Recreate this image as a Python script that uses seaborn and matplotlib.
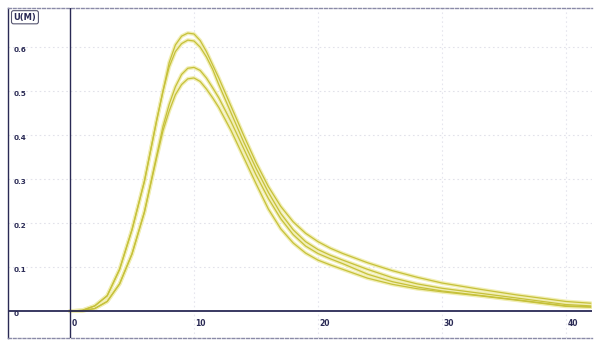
import numpy as np
import pandas as pd
import matplotlib
matplotlib.use("Agg")
import matplotlib.pyplot as plt
import seaborn as sns

# time axis (shared)
t = [0, 1, 2, 3, 4, 5, 6, 7, 7.5, 8, 8.5, 9, 9.5, 10, 10.5, 11, 11.5, 12,
     13, 14, 15, 16, 17, 18, 19, 20, 21, 22, 24, 26, 28, 30, 33, 36, 40, 42]

curve_a = [0, 0.002, 0.012, 0.035, 0.095, 0.185, 0.295, 0.435, 0.50, 0.565, 0.605, 0.625,
           0.632, 0.63, 0.615, 0.59, 0.56, 0.53, 0.465, 0.40, 0.338, 0.283, 0.238,
           0.203, 0.177, 0.158, 0.143, 0.131, 0.11, 0.092, 0.077, 0.064, 0.05,
           0.037, 0.022, 0.018]
curve_b = [0, 0.002, 0.012, 0.035, 0.095, 0.185, 0.295, 0.435, 0.50, 0.555, 0.59, 0.608,
           0.616, 0.614, 0.60, 0.578, 0.55, 0.515, 0.45, 0.385, 0.325, 0.27, 0.222,
           0.185, 0.158, 0.14, 0.127, 0.116, 0.095, 0.076, 0.062, 0.052, 0.041,
           0.03, 0.015, 0.012]
curve_c = [0, 0.001, 0.006, 0.022, 0.062, 0.13, 0.225, 0.355, 0.42, 0.47, 0.51, 0.538,
           0.552, 0.554, 0.547, 0.53, 0.508, 0.485, 0.43, 0.37, 0.31, 0.256, 0.21,
           0.174, 0.148, 0.131, 0.119, 0.108, 0.084, 0.067, 0.055, 0.046, 0.036,
           0.026, 0.012, 0.01]
curve_d = [0, 0.001, 0.006, 0.022, 0.062, 0.13, 0.225, 0.35, 0.41, 0.455, 0.492, 0.515,
           0.528, 0.53, 0.522, 0.505, 0.485, 0.463, 0.41, 0.35, 0.29, 0.232, 0.187,
           0.155, 0.132, 0.116, 0.105, 0.095, 0.075, 0.061, 0.051, 0.044, 0.035,
           0.025, 0.011, 0.009]

series_names = ["A", "B", "C", "D"]
x_ticks = [0, 10, 20, 30, 40]
x_tick_labels = ["0", "10", "20", "30", "40"]
y_ticks = [0, 0.1, 0.2, 0.3, 0.4, 0.5, 0.6]
y_tick_labels = ["0", "0.1", "0.2", "0.3", "0.4", "0.5", "0.6"]
unit_label = "U(M)"

frames = []
for name, vals in zip(series_names, [curve_a, curve_b, curve_c, curve_d]):
    frames.append(pd.DataFrame({"t": t, "v": vals, "curve": name}))
df = pd.concat(frames, ignore_index=True)

sns.set_style("white")
fig = plt.figure(figsize=(6.02, 3.48), dpi=100)
ax = fig.add_axes([8 / 602, 10 / 348, 584 / 602, 330 / 348])

XMIN, XMAX = -5.0, 42.1
YMIN, YMAX = -0.061, 0.689
ax.set_xlim(XMIN, XMAX)
ax.set_ylim(YMIN, YMAX)

# faint dotted grid
for yv in y_ticks[1:]:
    ax.axhline(yv, color="#e2e2ea", lw=0.8, ls=(0, (1.5, 2.5)), zorder=0)
for xv in x_ticks[1:]:
    ax.axvline(xv, color="#e6e6ee", lw=0.8, ls=(0, (1.5, 2.5)), zorder=0)

# curves: pale halo + olive core
pal = {n: "#f1eeb4" for n in series_names}
sns.lineplot(data=df, x="t", y="v", hue="curve", palette=pal, lw=2.8,
             legend=False, ax=ax, zorder=2, sort=True, estimator=None)
pal2 = {n: "#c6c13a" for n in series_names}
sns.lineplot(data=df, x="t", y="v", hue="curve", palette=pal2, lw=0.9,
             legend=False, ax=ax, zorder=3, sort=True, estimator=None)

# axes lines at zero
navy = "#2a2a55"
ax.axhline(0, color=navy, lw=1.3, zorder=4)
ax.axvline(0, color=navy, lw=1.0, zorder=4)

# frame
ax.spines["right"].set_visible(False)
ax.spines["left"].set_color(navy)
ax.spines["left"].set_linewidth(1.0)
for s in ["top", "bottom"]:
    ax.spines[s].set_color("#8a8aa8")
    ax.spines[s].set_linewidth(1.0)
    ax.spines[s].set_linestyle((0, (2, 1.5)))

ax.set_xticks([])
ax.set_yticks([])
ax.set_xlabel("")
ax.set_ylabel("")

# tick labels as text in data coords
for yv, lab in zip(y_ticks, y_tick_labels):
    ax.text(-4.55, yv - 0.007, lab, fontsize=5.2, fontweight="bold", color=navy,
            ha="left", va="center", family="DejaVu Sans")
for xv, lab in zip(x_ticks, x_tick_labels):
    ax.text(xv + 0.1, -0.028, lab, fontsize=5.5, fontweight="bold", color=navy,
            ha="left", va="center", family="DejaVu Sans")

ax.text(-4.55, 0.668, unit_label, fontsize=6, fontweight="bold", color=navy,
        ha="left", va="center", family="DejaVu Sans",
        bbox=dict(boxstyle="round,pad=0.25", fc="white", ec="#555570", lw=0.8))

fig.savefig("out.png", dpi=100, facecolor="white")
